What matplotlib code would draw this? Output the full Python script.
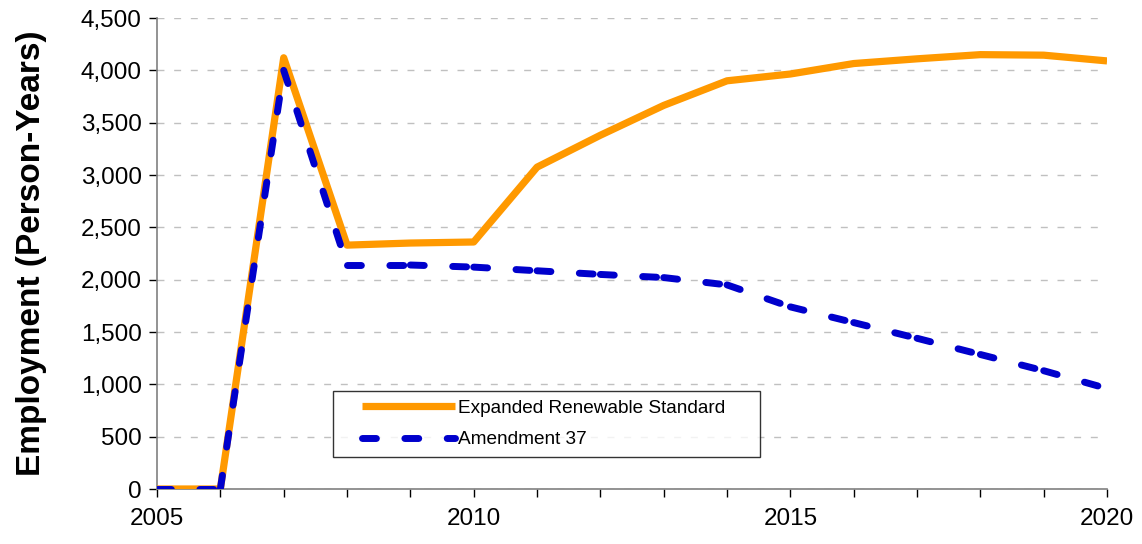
import matplotlib
matplotlib.use("Agg")
import matplotlib.pyplot as plt
from matplotlib.ticker import FuncFormatter, MultipleLocator
from matplotlib.legend_handler import HandlerLine2D

plt.rcParams['font.family'] = ['Liberation Sans', 'DejaVu Sans']

years = list(range(2005, 2021))
expanded = [0, 0, 4120, 2330, 2350, 2360, 3075, 3380, 3665, 3900, 3965, 4065, 4110, 4150, 4145, 4090]
amend37 = [0, 0, 4000, 2140, 2140, 2120, 2085, 2050, 2020, 1950, 1740, 1590, 1440, 1285, 1130, 960]
series_labels = ["Expanded Renewable Standard", "Amendment 37"]
ylabel = "Employment (Person-Years)"

fig = plt.figure(figsize=(11.42, 5.44), dpi=100)
ax = fig.add_axes([0.1375, 0.1011, 0.8319, 0.8658])

l1, = ax.plot(years, expanded, color="#FF9900", lw=5.2, solid_joinstyle="round",
              solid_capstyle="butt", label=series_labels[0], zorder=3)

# dashed series: pattern restarts at each data point (as in the original)
blue_style = dict(color="#0000CC", lw=5.0, linestyle=(0, (2.0, 4.1)),
                  dash_capstyle="round", dash_joinstyle="round", zorder=4)
l2 = None
for i in range(len(years) - 1):
    ln, = ax.plot(years[i:i + 2], amend37[i:i + 2], **blue_style)
    if l2 is None:
        l2 = ln
l2.set_label(series_labels[1])

ax.set_xlim(2005, 2020)
ax.set_ylim(0, 4500)
ax.xaxis.set_major_locator(MultipleLocator(5))
ax.xaxis.set_minor_locator(MultipleLocator(1))
ax.yaxis.set_major_locator(MultipleLocator(500))
ax.yaxis.set_major_formatter(FuncFormatter(lambda v, p: f"{int(v):,}"))

ax.grid(axis="y", color="#c0c0c0", linestyle=(0, (5, 7)), linewidth=1.0, zorder=0)
ax.set_axisbelow(True)

for s in ["top", "right"]:
    ax.spines[s].set_visible(False)
for s in ["left", "bottom"]:
    ax.spines[s].set_color("#808080")
    ax.spines[s].set_linewidth(1.2)

ax.tick_params(axis="both", which="both", direction="out", colors="black", labelsize=17.5)
ax.tick_params(axis="both", which="major", length=6, width=1, color="black")
ax.tick_params(axis="x", which="minor", length=6, width=1, color="black")
ax.tick_params(axis="x", pad=8)
ax.tick_params(axis="y", pad=5)

ax.set_ylabel(ylabel, fontsize=24, fontweight="bold", labelpad=24)

leg = ax.legend(handles=[l1, l2], loc="lower left",
                bbox_to_anchor=(0.185, 0.068, 0.45, 0.136),
                mode="expand", fontsize=13.7, handlelength=5.95, handletextpad=0.2,
                frameon=True, fancybox=False, borderaxespad=0, borderpad=0.45,
                labelspacing=0.75,
                handler_map={l1: HandlerLine2D(xpad=1.1), l2: HandlerLine2D(xpad=1.1)})
leg.get_frame().set_edgecolor("black")
leg.get_frame().set_linewidth(1.0)

fig.savefig("out.png", dpi=100)
